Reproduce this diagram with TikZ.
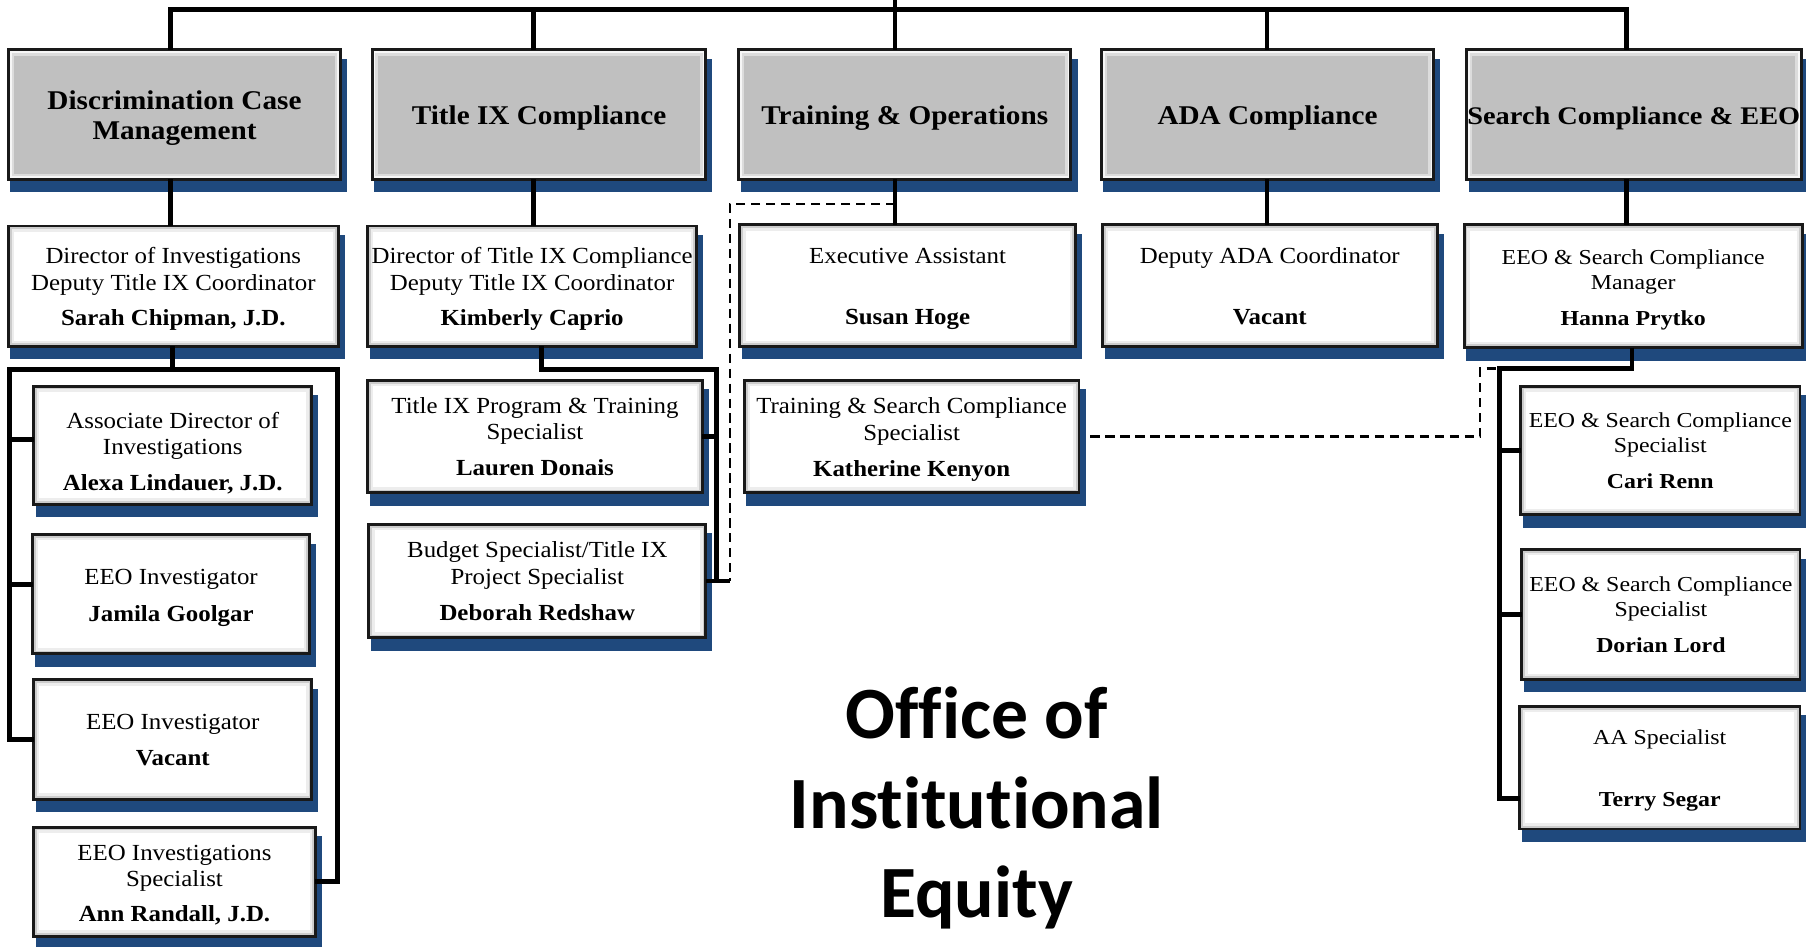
\documentclass[tikz,border=0pt]{standalone}
\usepackage{fontspec}
\setmainfont{Liberation Serif}[FakeStretch=1.08]
\newfontfamily\widefont{Liberation Serif}[FakeStretch=1.12]
\newfontfamily\titlefont{Carlito}[Ligatures=CommonOff]
\definecolor{shadowblue}{RGB}{31,73,125}
\definecolor{headgray}{RGB}{192,192,192}
\newcommand\bodyfnt{\fontsize{20}{23}\selectfont}
\newcommand\headfnt{\fontsize{23.5}{26}\selectfont\bfseries}
\newcommand\widefnt{\widefont\fontsize{18.5}{22}\selectfont}
\newcommand\wideheadfnt{\widefont\bfseries\fontsize{22}{26}\selectfont}
\newcommand\bigtitlefnt{\titlefont\bfseries\fontsize{64}{78}\selectfont}
\newcommand\tsh{0pt}
% #1 name, #2 style, #3 left, #4 top, #5 right, #6 bottom, #7 text
\newcommand\obox[7]{%
  \fill[shadowblue] ({#3+3},{#4+9}) rectangle ({#5+4.5},{#6+10});
  \node[#2, minimum width={(#5-#3-2.5)*1pt}, minimum height={(#6-#4-2.5)*1pt}]
    (#1) at ({(#3+#5)/2},{(#4+#6)/2}) {\rule{0pt}{\tsh}#7};}
\tikzset{
  topstrut/.code={\def\tsh{#1}},
  wbox/.style={rectangle, draw=black!90, line width=2.5pt, fill=white,
    inner sep=0pt, outer sep=0pt, align=center, font=\bodyfnt,
    topstrut=19pt,
    path picture={
      \draw[line width=10pt, black!7] (path picture bounding box.south west) rectangle (path picture bounding box.north east);
      \draw[line width=5.5pt, black!20] (path picture bounding box.south west) rectangle (path picture bounding box.north east);}},
  hbox/.style={wbox, fill=headgray, font=\headfnt, topstrut=22.5pt,
    path picture={
      \draw[line width=10pt, white!45!headgray] (path picture bounding box.south west) rectangle (path picture bounding box.north east);
      \draw[line width=5.5pt, white!85!headgray] (path picture bounding box.south west) rectangle (path picture bounding box.north east);}},
  wide/.style={font=\widefnt, topstrut=0pt},
  conn/.style={line width=4pt, black},
  dashconn/.style={line width=2pt, black, dash pattern=on 8pt off 5pt},
  titletext/.style={font=\bigtitlefnt, anchor=base, inner sep=0pt}
}
\begin{document}
\begin{tikzpicture}[x=1pt,y=-1pt]
\useasboundingbox[fill=white] (0,0) rectangle (1568,822);

% headers
\obox{H1}{hbox}{6}{42}{297}{157}{Discrimination Case\\Management}
\obox{H2}{hbox}{322}{42}{614}{157}{Title IX Compliance}
\obox{H3}{hbox}{640}{42}{931}{157}{Training \& Operations}
\obox{H4}{hbox}{955}{42}{1246}{157}{ADA Compliance}
\obox{H5}{hbox,font=\wideheadfnt}{1272}{42}{1565}{157}{Search Compliance \& EEO}

% second row
\obox{D1}{wbox}{6}{195}{295}{302}{Director of Investigations\\Deputy Title IX Coordinator\\[8pt]\textbf{Sarah Chipman, J.D.}}
\obox{D2}{wbox}{318}{195}{606}{302}{Director of Title IX Compliance\\Deputy Title IX Coordinator\\[8pt]\textbf{Kimberly Caprio}}
\obox{D3}{wbox}{641}{194}{935}{302}{Executive Assistant\\[30pt]\textbf{Susan Hoge}}
\obox{D4}{wbox,topstrut=15pt}{956}{194}{1249}{302}{Deputy ADA Coordinator\\[30pt]\textbf{Vacant}}
\obox{D5}{wbox,wide,topstrut=19pt}{1270}{194}{1566}{303}{EEO \& Search Compliance\\Manager\\[9pt]\textbf{Hanna Prytko}}

% column 1
\obox{A1}{wbox,topstrut=28pt}{28}{334}{272}{439}{Associate Director of\\Investigations\\[8pt]\textbf{Alexa Lindauer, J.D.}}
\obox{A2}{wbox}{27}{463}{270}{569}{EEO Investigator\\[9pt]\textbf{Jamila Goolgar}}
\obox{A3}{wbox,topstrut=14pt}{28}{589}{272}{695}{EEO Investigator\\[8pt]\textbf{Vacant}}
\obox{A4}{wbox}{28}{717}{275}{814}{EEO Investigations\\Specialist\\[7pt]\textbf{Ann Randall, J.D.}}

% column 2
\obox{B1}{wbox,topstrut=14pt}{318}{329}{611}{429}{Title IX Program \& Training\\Specialist\\[8pt]\textbf{Lauren Donais}}
\obox{B2}{wbox,topstrut=14pt}{319}{454}{614}{555}{Budget Specialist/Title IX\\Project Specialist\\[8pt]\textbf{Deborah Redshaw}}

% column 3
\obox{C1}{wbox}{645}{329}{938}{429}{Training \& Search Compliance\\Specialist\\[8pt]\textbf{Katherine Kenyon}}

% column 5
\obox{E1}{wbox,wide}{1319}{334}{1564}{448}{EEO \& Search Compliance\\Specialist\\[9pt]\textbf{Cari Renn}}
\obox{E2}{wbox,wide}{1320}{476}{1564}{591}{EEO \& Search Compliance\\Specialist\\[9pt]\textbf{Dorian Lord}}
\obox{E3}{wbox,wide,topstrut=17pt}{1318}{612}{1564}{721}{AA Specialist\\[32pt]\textbf{Terry Segar}}

% title
\node[titletext] (title1) at (848,641) {Office of};
\node[titletext] (title2) at (848,719) {Institutional};
\node[titletext] (title3) at (848,797) {Equity};

% connector coordinates
\coordinate (t1) at (148,8);
\coordinate (t2) at (463,8);
\coordinate (t3) at (777,0);
\coordinate (t4) at (1100,8);
\coordinate (t5) at (1412,8);
\coordinate (j1) at (150,321);
\coordinate (b1l) at (8,321);
\coordinate (b1r) at (293,321);
\coordinate (j2) at (470,321);
\coordinate (k2) at (622,0);
\coordinate (dashx) at (634,0);
\coordinate (dj) at (777,177);
\coordinate (dk) at (1285,0);
\coordinate (j5) at (1417,320);
\coordinate (j5l) at (1302,320);

% top bus
\draw[conn] (t1 |- H1.north) -- (t1) -- (t5) -- (t5 |- H5.north);
\draw[conn] (t2) -- (t2 |- H2.north);
\draw[conn] (t3) -- (t3 |- H3.north);
\draw[conn] (t4) -- (t4 |- H4.north);

% header to second row
\draw[conn] (H1.south -| t1) -- (D1.north -| t1);
\draw[conn] (H2.south -| t2) -- (D2.north -| t2);
\draw[conn] (H3.south -| t3) -- (D3.north -| t3);
\draw[conn] (H4.south -| t4) -- (D4.north -| t4);
\draw[conn] (H5.south -| t5) -- (D5.north -| t5);

% column 1
\draw[conn] (D1.south -| j1) -- (j1);
\draw[conn] (A3.west) -| (b1l) -- (b1r) |- (A4.east);
\draw[conn] ([yshift=5pt]A1.west) -- ++(-20,0);
\draw[conn] ([yshift=8.5pt]A2.west) -- ++(-19,0);

% column 2
\draw[conn] (D2.south -| j2) -- (j2) -| (B2.east -| k2) -- (B2.east);
\draw[conn] (B1.east) -- (B1.east -| k2);
\draw[conn] (B2.east -| k2) -- (B2.east -| dashx);
\draw[dashconn] (dj) -| (B2.east -| dashx);

% column 3 dotted report
\draw[dashconn] ([xshift=10pt]C1.east) -| (j5l -| dk) -- (j5l);

% column 5
\draw[conn] (D5.south -| j5) -- (j5) -- (j5l) |- ([yshift=-26.5pt]E3.west);
\draw[conn] (E1.west) -- (E1.west -| j5l);
\draw[conn] (E2.west) -- (E2.west -| j5l);
\end{tikzpicture}
\end{document}
